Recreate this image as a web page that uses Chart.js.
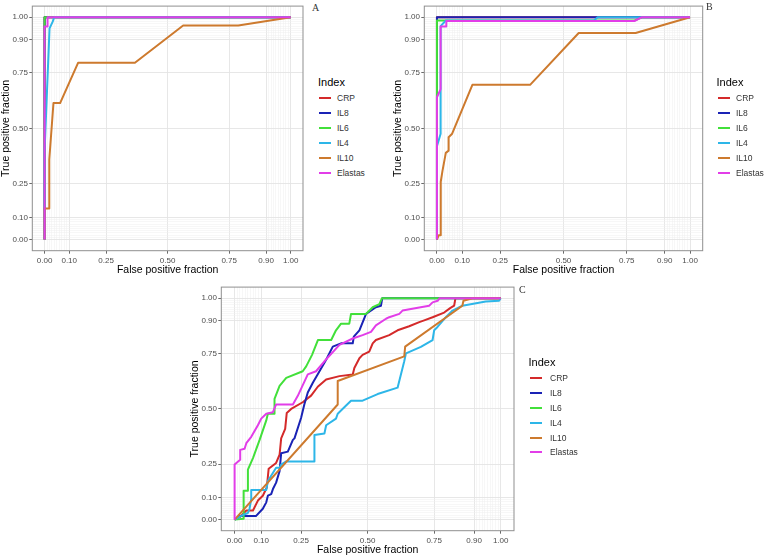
<!DOCTYPE html>
<html><head><meta charset="utf-8">
<script src="https://cdn.jsdelivr.net/npm/chart.js@4.4.1/dist/chart.umd.min.js"></script>
<style>
html,body{margin:0;padding:0;background:#fff;overflow:hidden;width:765px;height:555px;position:relative;}
canvas{position:absolute;}
.t{position:absolute;font-family:'Liberation Sans',Arial,sans-serif;white-space:nowrap;}
.sw{position:absolute;height:2px;}
.pl{position:absolute;font-family:'Liberation Serif','Times New Roman',serif;font-size:10px;color:#333;}
</style></head><body>
<canvas id="cA" width="310" height="280" style="left:0px;top:0px"></canvas>
<canvas id="cB" width="318" height="280" style="left:392px;top:0px"></canvas>
<canvas id="cC" width="336" height="279" style="left:189px;top:281px"></canvas>
<div class="pl" style="left:312px;top:2px">A</div>
<div class="pl" style="left:706px;top:1px">B</div>
<div class="pl" style="left:519px;top:284px">C</div>
<script>
// ---------- data ----------
const seriesNames = ['CRP','IL8','IL6','IL4','IL10','Elastas'];
const seriesColors = ['#D42A2A','#1A23B5','#42E03A','#2DB6E8','#CD7A2E','#E23DE8'];
const majorTicks = [0,0.1,0.25,0.5,0.75,0.9,1];
const tickLabels = ['0.00','0.10','0.25','0.50','0.75','0.90','1.00'];
const minorTicks = [0.01,0.02,0.03,0.04,0.05,0.06,0.07,0.08,0.09,0.91,0.92,0.93,0.94,0.95,0.96,0.97,0.98,0.99];
const legendTitle = 'Index';
const xTitle = 'False positive fraction';
const yTitle = 'True positive fraction';

// Panel A  [FPR, TPR]
const A_CRP = [[0,0],[0,1],[1,1]];
const A_IL8 = [[0,0],[0,1],[1,1]];
const A_IL6 = [[0,0],[0,1],[1,1]];
const A_IL4 = [[0,0],[0,0.4],[0.02,0.95],[0.033,0.98],[0.039,1],[1,1]];
const A_IL10 = [[0,0],[0,0.14],[0.019,0.14],[0.019,0.36],[0.036,0.614],[0.063,0.614],[0.136,0.795],[0.367,0.795],[0.563,0.963],[0.787,0.963],[1,1]];
const A_Elastas = [[0,0],[0,0.958],[0.012,0.958],[0.012,1],[1,1]];

// Panel B
const B_CRP = [[0,0],[0,1],[1,1]];
const B_IL8 = [[0,0],[0,1],[1,1]];
const B_IL6 = [[0,0],[0,0.985],[0.03,0.985],[0.78,0.985],[0.81,1],[1,1]];
const B_IL4 = [[0,0],[0,0.42],[0.0145,0.476],[0.0145,0.96],[0.035,0.985],[0.62,0.985],[0.635,1],[1,1]];
const B_IL10 = [[0,0],[0.007,0.02],[0.015,0.02],[0.015,0.26],[0.022,0.31],[0.035,0.39],[0.046,0.4],[0.046,0.46],[0.06,0.476],[0.14,0.696],[0.368,0.696],[0.56,0.929],[0.785,0.929],[1,1]];
const B_Elastas = [[0,0],[0,0.64],[0.0145,0.677],[0.0145,0.958],[0.037,0.958],[0.037,0.983],[0.78,0.983],[0.81,1],[1,1]];

// Panel C
const C_CRP = [[0,0],[0.02,0.012],[0.044,0.041],[0.069,0.041],[0.0875,0.086],[0.106,0.108],[0.121,0.145],[0.128,0.23],[0.156,0.256],[0.169,0.293],[0.175,0.367],[0.19,0.41],[0.196,0.482],[0.2125,0.5],[0.256,0.53],[0.2875,0.56],[0.3125,0.6],[0.344,0.633],[0.394,0.648],[0.444,0.655],[0.45,0.685],[0.469,0.729],[0.481,0.744],[0.506,0.759],[0.519,0.796],[0.531,0.811],[0.581,0.833],[0.6125,0.855],[0.656,0.873],[0.694,0.892],[0.7125,0.9],[0.744,0.914],[0.7875,0.935],[0.81,0.955],[0.825,0.966],[0.83,1],[1,1]];
const C_IL8 = [[0,0],[0.006,0.004],[0.019,0.016],[0.08,0.016],[0.106,0.049],[0.119,0.078],[0.125,0.108],[0.1375,0.115],[0.144,0.138],[0.156,0.167],[0.169,0.219],[0.175,0.3],[0.2,0.307],[0.219,0.36],[0.225,0.367],[0.25,0.46],[0.262,0.52],[0.275,0.574],[0.294,0.618],[0.3125,0.656],[0.344,0.722],[0.369,0.781],[0.4,0.796],[0.444,0.796],[0.448,0.826],[0.469,0.855],[0.494,0.929],[0.531,0.959],[0.55,0.966],[0.555,1],[1,1]];
const C_IL6 = [[0,0],[0.034,0.004],[0.034,0.13],[0.05,0.13],[0.05,0.226],[0.069,0.278],[0.094,0.36],[0.119,0.448],[0.125,0.478],[0.15,0.478],[0.15,0.545],[0.169,0.604],[0.194,0.64],[0.256,0.67],[0.269,0.692],[0.291,0.744],[0.313,0.811],[0.363,0.811],[0.381,0.855],[0.4,0.885],[0.431,0.885],[0.4375,0.929],[0.494,0.929],[0.519,0.959],[0.544,0.973],[0.554,1],[1,1]];
const C_IL4 = [[0,0],[0.03,0.02],[0.05,0.03],[0.056,0.049],[0.0625,0.093],[0.0625,0.134],[0.119,0.134],[0.125,0.174],[0.156,0.234],[0.169,0.234],[0.175,0.248],[0.194,0.263],[0.3,0.263],[0.3,0.382],[0.3375,0.389],[0.344,0.426],[0.381,0.456],[0.3875,0.478],[0.419,0.515],[0.4375,0.537],[0.481,0.537],[0.5375,0.567],[0.6125,0.596],[0.6375,0.715],[0.644,0.751],[0.7,0.78],[0.744,0.811],[0.75,0.855],[0.7625,0.87],[0.794,0.914],[0.819,0.944],[0.856,0.966],[0.944,0.985],[0.994,0.988],[1,1]];
const C_IL10 = [[0,0],[0.3875,0.52],[0.3875,0.626],[0.6375,0.737],[0.641,0.781],[0.856,0.966],[0.86,0.988],[0.894,1],[1,1]];
const C_Elastas = [[0,0],[0,0.249],[0.021,0.27],[0.021,0.315],[0.0375,0.32],[0.044,0.345],[0.0625,0.374],[0.0875,0.426],[0.1,0.456],[0.119,0.478],[0.144,0.485],[0.156,0.52],[0.219,0.52],[0.2375,0.559],[0.275,0.656],[0.306,0.67],[0.3375,0.715],[0.394,0.789],[0.444,0.818],[0.481,0.833],[0.5125,0.848],[0.531,0.877],[0.569,0.907],[0.581,0.914],[0.619,0.929],[0.631,0.944],[0.731,0.966],[0.744,0.981],[0.763,0.988],[0.771,1],[1,1]];

// ---------- drawing ----------
const FONT = "'Liberation Sans', Arial, sans-serif";
const isMajor = v => majorTicks.some(m => Math.abs(m - v) < 1e-9);
const allTicks = majorTicks.concat(minorTicks).sort((a,b)=>a-b);

const borderPlugin = {
  id: 'panelBorder',
  afterDraw(chart) {
    const a = chart.chartArea, ctx = chart.ctx;
    ctx.save();
    ctx.strokeStyle = '#8f8f8f';
    ctx.lineWidth = 1;
    ctx.strokeRect(a.left, a.top, a.right - a.left, a.bottom - a.top);
    ctx.restore();
  }
};

function axis(isX, padRight) {
  return {
    type: 'linear', min: -0.05, max: 1.05,
    afterBuildTicks: s => { s.ticks = allTicks.map(v => ({value: v})); },
    afterFit: s => { if (isX) s.height = 29.3; else s.width = 32.3; },
    ticks: {
      autoSkip: false, maxRotation: 0, minRotation: 0,
      padding: isX ? 2 : 1.3,
      color: '#4D4D4D',
      font: {family: FONT, size: 8},
      callback: v => { const i = majorTicks.findIndex(m => Math.abs(m - v) < 1e-9); return i >= 0 ? tickLabels[i] : ''; }
    },
    grid: {
      drawTicks: true, tickLength: 3,
      color: c => (c.tick && isMajor(c.tick.value)) ? '#e4e4e4' : '#efefef',
      lineWidth: c => (c.tick && isMajor(c.tick.value)) ? 0.9 : 0.5,
      tickColor: c => (c.tick && isMajor(c.tick.value)) ? '#444' : 'rgba(0,0,0,0)',
      tickWidth: 0.8
    },
    border: {display: false},
    title: {
      display: true, text: isX ? xTitle : yTitle, color: '#000',
      font: {family: FONT, size: 10.5},
      padding: isX ? {top: 0, bottom: 3.4} : {top: 0, bottom: 0}
    }
  };
}

function makeChart(id, series, padRight) {
  const datasets = series.map((pts, i) => ({
    label: seriesNames[i],
    data: pts.map(p => ({x: p[0], y: p[1]})),
    borderColor: seriesColors[i],
    backgroundColor: seriesColors[i],
    borderWidth: 2,
    borderJoinStyle: 'round',
    showLine: true, fill: false, tension: 0,
    pointRadius: 0,
    order: series.length - i
  }));
  new Chart(document.getElementById(id), {
    type: 'scatter',
    data: {datasets},
    options: {
      responsive: false, animation: false, events: [],
      layout: {padding: {left: 0, top: 4.3, right: padRight, bottom: 0}},
      plugins: {legend: {display: false}, tooltip: {enabled: false}},
      scales: {x: axis(true), y: axis(false)}
    },
    plugins: [borderPlugin]
  });
}

makeChart('cA', [A_CRP, A_IL8, A_IL6, A_IL4, A_IL10, A_Elastas], 7);
makeChart('cB', [B_CRP, B_IL8, B_IL6, B_IL4, B_IL10, B_Elastas], 7.3);
makeChart('cC', [C_CRP, C_IL8, C_IL6, C_IL4, C_IL10, C_Elastas], 11);

// HTML legends
function legend(titleLeft, titleCY, swLeft, textLeft, firstCY, step) {
  const t = document.createElement('div');
  t.className = 't';
  t.style.cssText = `left:${titleLeft}px;top:${titleCY - 7}px;font-size:11px;line-height:14px;color:#000`;
  t.textContent = legendTitle;
  document.body.appendChild(t);
  seriesNames.forEach((n, i) => {
    const cy = firstCY + i * step;
    const s = document.createElement('div');
    s.className = 'sw';
    s.style.cssText = `left:${swLeft}px;top:${cy - 1}px;width:12px;background:${seriesColors[i]}`;
    document.body.appendChild(s);
    const l = document.createElement('div');
    l.className = 't';
    l.style.cssText = `left:${textLeft}px;top:${cy - 6}px;font-size:8.5px;line-height:12px;color:#333`;
    l.textContent = n;
    document.body.appendChild(l);
  });
}
legend(318, 82, 318.5, 337, 98.3, 14.9);
legend(716.5, 82, 718, 736, 98.3, 14.9);
legend(528.5, 362, 530, 550, 378.3, 14.8);
</script>
</body></html>
